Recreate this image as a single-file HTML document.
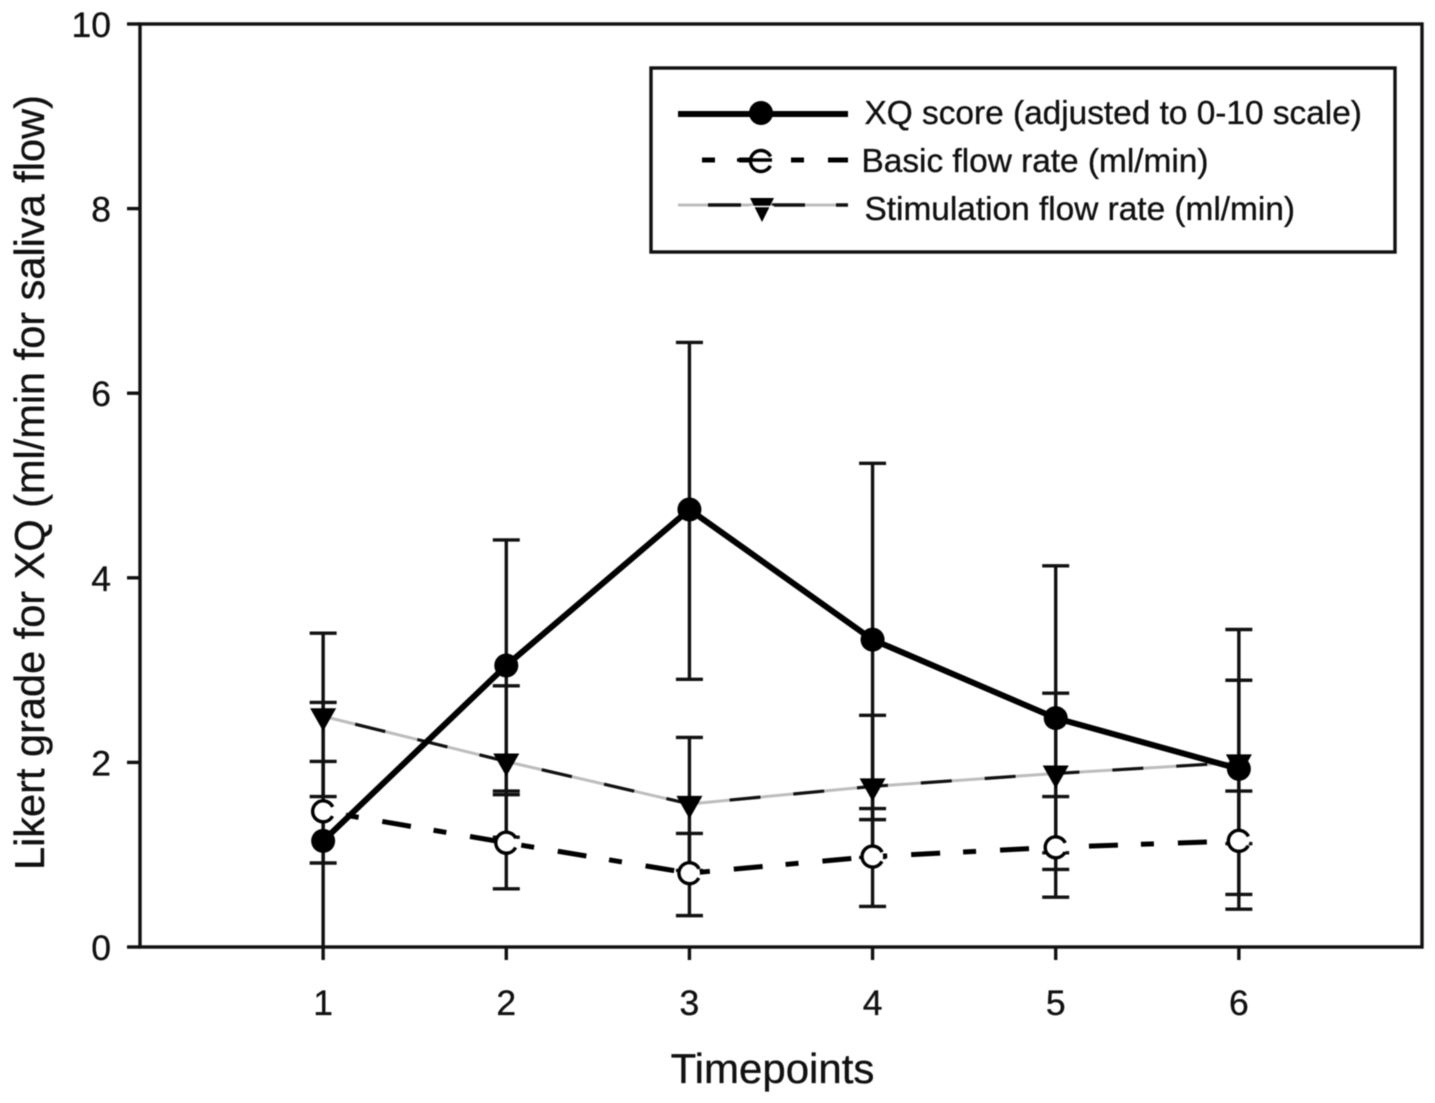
<!DOCTYPE html>
<html lang="en">
<head>
<meta charset="utf-8">
<title>Likert grade for XQ and saliva flow over timepoints</title>
<style>
html,body{margin:0;padding:0;background:#fff;}
svg{display:block;filter:blur(0.6px);}
text{font-family:"Liberation Sans",Arial,sans-serif;fill:#111;stroke:#111;stroke-width:0.35px;}
</style>
</head>
<body>
<svg id="chart" xmlns="http://www.w3.org/2000/svg" width="1435" height="1103" viewBox="0 0 1435 1103">
  <rect x="0" y="0" width="1435" height="1103" fill="#fff"/>
  <defs>
    <clipPath id="plot-clip"><rect x="140" y="24" width="1282" height="923"/></clipPath>
  </defs>
  <g id="axes"></g>
  <g id="error-bars" clip-path="url(#plot-clip)"></g>
  <g id="series"></g>
  <rect x="140" y="24" width="1282" height="923" fill="none" stroke="#111" stroke-width="3.4"/>
  <text x="772.5" y="1083" font-size="42" text-anchor="middle">Timepoints</text>
  <text transform="translate(44,870) rotate(-90)" font-size="41.5">Likert grade for XQ (ml/min for saliva flow)</text>

  <g>
    <rect x="651" y="68" width="744" height="184" fill="#fff" stroke="#111" stroke-width="3.4"/>
    <g>
      <line x1="678" y1="114" x2="848" y2="114" stroke="#000" stroke-width="6"/>
      <circle cx="761" cy="113" r="12" fill="#000"/>
      <text x="864.5" y="124" font-size="33.4">XQ score (adjusted to 0-10 scale)</text>
    </g>
    <g>
      <line x1="690" y1="160" x2="848" y2="160" stroke="#000" stroke-width="5" stroke-dasharray="29 23 13 24" stroke-dashoffset="40"/>
      <circle cx="761" cy="161" r="10.5" fill="#fff" stroke="#000" stroke-width="3.4" stroke-dasharray="56 10" stroke-dashoffset="-5"/>
      <line x1="737" y1="160" x2="772" y2="160" stroke="#000" stroke-width="3.4"/>
      <text x="861.5" y="172" font-size="33.4">Basic flow rate (ml/min)</text>
    </g>
    <g>
      <line x1="678" y1="205" x2="848" y2="205" stroke="#bdbdbd" stroke-width="3"/>
      <line x1="678" y1="205" x2="848" y2="205" stroke="#111" stroke-width="3.4" stroke-dasharray="33 31" stroke-dashoffset="34"/>
      <polygon points="750,198 774,198 762,222" fill="#000"/>
      <line x1="750" y1="206.5" x2="774" y2="206.5" stroke="#fff" stroke-width="1.5"/>
      <text x="864.5" y="220" font-size="33.4">Stimulation flow rate (ml/min)</text>
    </g>
  </g>
</svg>
<script>
const timepoints = [1, 2, 3, 4, 5, 6];
const xTickLabels = ['1', '2', '3', '4', '5', '6'];
const yTickValues = [0, 2, 4, 6, 8, 10];
const yTickLabels = ['0', '2', '4', '6', '8', '10'];

const xqScore = [1.15, 3.05, 4.74, 3.33, 2.48, 1.93];
const xqUpper = [2.65, 4.41, 6.55, 5.24, 4.13, 3.44];
const xqLower = [-0.3, 1.69, 2.90, 1.38, 0.84, 0.41];

const basicFlow = [1.47, 1.13, 0.80, 0.98, 1.08, 1.15];
const basicUpper = [2.01, 1.65, 1.23, 1.50, 1.63, 1.69];
const basicLower = [0.91, 0.63, 0.34, 0.44, 0.54, 0.57];

const stimFlow = [2.50, 2.01, 1.55, 1.74, 1.88, 2.00];
const stimUpper = [3.40, 2.83, 2.27, 2.51, 2.75, 2.89];
const stimLower = [1.63, 1.19, 0.83, 0.97, 1.02, 1.12];

const xDomain = [0, 7];
const yDomain = [0, 10];

const NS = 'http://www.w3.org/2000/svg';
function xScale(v) {
  return 140 + (v - xDomain[0]) / (xDomain[1] - xDomain[0]) * 1282;
}
function yScale(v) {
  return 947 - (v - yDomain[0]) / (yDomain[1] - yDomain[0]) * 923;
}
function make(tag, attrs, parent) {
  const el = document.createElementNS(NS, tag);
  for (const k in attrs) el.setAttribute(k, attrs[k]);
  parent.appendChild(el);
  return el;
}
const axes = document.getElementById('axes');
const errs = document.getElementById('error-bars');
const marks = document.getElementById('series');
const INK = '#111';

yTickValues.forEach(function (v, i) {
  const t = make('line', {x1: 127, x2: 140, y1: yScale(v), y2: yScale(v), stroke: INK, 'stroke-width': 3.4}, axes);
  
  
  const l = make('text', {x: 111, y: yScale(v) + 13, 'font-size': 35.5, 'text-anchor': 'end'}, axes);
  l.textContent = yTickLabels[i];
  
  
});

timepoints.forEach(function (v, i) {
  const t = make('line', {x1: xScale(v), x2: xScale(v), y1: 947, y2: 960, stroke: INK, 'stroke-width': 3.4}, axes);
  
  
  const l = make('text', {x: xScale(v), y: 1015, 'font-size': 35.5, 'text-anchor': 'middle'}, axes);
  l.textContent = xTickLabels[i];
  
  
});

function drawErrors(upper, lower) {
  timepoints.forEach(function (v, i) {
    const x = xScale(v);
    const stem = make('line', {x1: x, x2: x, y1: yScale(upper[i]), y2: yScale(lower[i]), stroke: INK, 'stroke-width': 3.4}, errs);
    
    
    const capTop = make('line', {x1: x - 13.5, x2: x + 13.5, y1: yScale(upper[i]), y2: yScale(upper[i]), stroke: INK, 'stroke-width': 3.4}, errs);
    
    
    const capLow = make('line', {x1: x - 13.5, x2: x + 13.5, y1: yScale(lower[i]), y2: yScale(lower[i]), stroke: INK, 'stroke-width': 3.4}, errs);
    
    
  });
}
drawErrors(stimUpper, stimLower);
drawErrors(basicUpper, basicLower);
drawErrors(xqUpper, xqLower);

function pointsOf(values) {
  return values.map(function (v, i) { return xScale(timepoints[i]) + ',' + yScale(v); }).join(' ');
}

const basicLine = make('polyline', {points: pointsOf(basicFlow), fill: 'none', stroke: '#000', 'stroke-width': 5, 'stroke-dasharray': '29 23 13 24', 'stroke-dashoffset': 29}, marks);



basicFlow.forEach(function (v, i) {
  const c = make('circle', {cx: xScale(timepoints[i]), cy: yScale(v), r: 10.5, fill: '#fff', stroke: '#000', 'stroke-width': 3.4, 'stroke-dasharray': '56 10', 'stroke-dashoffset': -5}, marks);
  
  
});

const stimBase = make('polyline', {points: pointsOf(stimFlow), fill: 'none', stroke: '#bdbdbd', 'stroke-width': 3}, marks);


const stimDash = make('polyline', {points: pointsOf(stimFlow), fill: 'none', stroke: '#111', 'stroke-width': 3.2, 'stroke-dasharray': '31 33', 'stroke-dashoffset': 31}, marks);



stimFlow.forEach(function (v, i) {
  const x = xScale(timepoints[i]);
  const y = yScale(v);
  const p = make('polygon', {points: (x - 13) + ',' + (y - 8) + ' ' + (x + 13) + ',' + (y - 8) + ' ' + x + ',' + (y + 15), fill: '#000'}, marks);
  
  
});

const xqLine = make('polyline', {points: pointsOf(xqScore), fill: 'none', stroke: '#000', 'stroke-width': 6}, marks);



xqScore.forEach(function (v, i) {
  const c = make('circle', {cx: xScale(timepoints[i]), cy: yScale(v), r: 12, fill: '#000'}, marks);
  
  
});
</script>
</body>
</html>
